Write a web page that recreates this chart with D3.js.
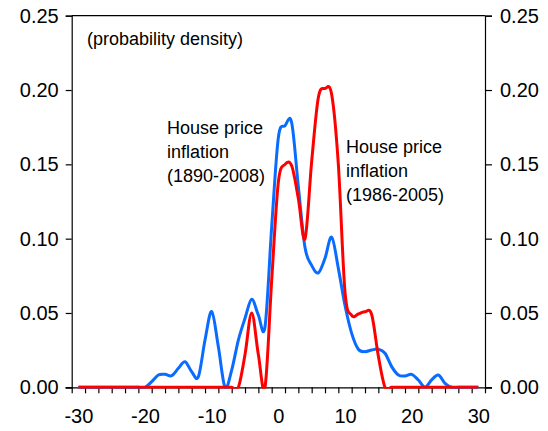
<!DOCTYPE html>
<html>
<head>
<meta charset="utf-8">
<script src="https://cdn.jsdelivr.net/npm/d3@7"></script>
<style>
  html, body { margin: 0; padding: 0; background: #fff; }
  svg { display: block; }
  text { font-family: "Liberation Sans", Arial, sans-serif; fill: #000; }
</style>
</head>
<body>
<svg id="chart" width="548" height="431"></svg>
<script>
// ---- data ----
const xValues = d3.range(-30, 31); // house price inflation, %
const blue18902008 = [
  0,0,0,0,0,0,0,0,0,0,            // -30..-21
  0,0.0038,0.0083,0.0087,0.0078,0.0128,0.0172,0.0105,0.0071,0.0318, // -20..-11
  0.0509,0.0273,0,0.0116,0.0318,0.0464,0.0592,0.0486,0.0408,0.108, // -10..-1
  0.168,0.176,0.178,0.135,0.094,0.082,0.077,0.0868,0.101,0.080, // 0..9
  0.055,0.0363,0.0256,0.024,0.0251,0.0256,0.0229,0.0139,0.0083,0.0076, // 10..19
  0.0087,0.0049,0,0.005,0.0083,0.0027,0,0,0,0,0 // 20..30
];
const red19862005 = [
  0,0,0,0,0,0,0,0,0,0,            // -30..-21
  0,0,0,0,0,0,0,0,0,0,            // -20..-11
  0,0,0,0,0,0.022,0.050,0.022,0,0.072, // -10..-1
  0.138,0.150,0.149,0.127,0.100,0.152,0.195,0.201,0.197,0.150, // 0..9
  0.064,0.0484,0.0493,0.0509,0.049,0.021,0,0,0,0, // 10..19
  0,0,0,0,0,0,0,0,0,0,0 // 20..30
];
const xTickLabels = [-30, -20, -10, 0, 10, 20, 30];
const xMinorTicks = d3.range(-31, 32, 2);
const yTickValues = [0, 0.05, 0.10, 0.15, 0.20, 0.25];
const noteLeft = ["House price", "inflation", "(1890-2008)"];
const noteRight = ["House price", "inflation", "(1986-2005)"];
const unitLabel = "(probability density)";

// ---- chart ----
const svg = d3.select("#chart");
const x = d3.scaleLinear().domain([-31, 31]).range([71.7, 485]);
const y = d3.scaleLinear().domain([0, 0.25]).range([387.3, 15.7]);
const fs = 20;

svg.append("clipPath").attr("id", "plotClip")
  .append("rect")
  .attr("x", x(-31)).attr("y", y(0.25))
  .attr("width", x(31) - x(-31)).attr("height", y(0) - y(0.25) + 1.5);

// frame
svg.append("line").attr("x1", x(-31)).attr("x2", x(31)).attr("y1", y(0.25)).attr("y2", y(0.25))
  .attr("stroke", "#000").attr("stroke-width", 1.2);

// left axis
const gl = svg.append("g").attr("transform", `translate(${x(-31)},0)`)
  .call(d3.axisLeft(y).tickValues(yTickValues).tickFormat(d3.format(".2f")).tickSize(6).tickPadding(7));
// right axis
const gr = svg.append("g").attr("transform", `translate(${x(31)},0)`)
  .call(d3.axisRight(y).tickValues(yTickValues).tickFormat(d3.format(".2f")).tickSize(7).tickPadding(8));
// bottom axis minor ticks
const gb = svg.append("g").attr("transform", `translate(0,${y(0)})`)
  .call(d3.axisBottom(x).tickValues(xMinorTicks).tickFormat("").tickSize(6).tickSizeOuter(0));
// bottom labels
const gbl = svg.append("g").attr("transform", `translate(0,${y(0)})`)
  .call(d3.axisBottom(x).tickValues(xTickLabels).tickFormat(d => String(d)).tickSize(0).tickPadding(22));
gbl.select(".domain").remove();

[gl, gr, gb, gbl].forEach(g => {
  g.selectAll("text").style("font-size", fs + "px").style("font-family", '"Liberation Sans", Arial, sans-serif');
  g.selectAll("line,path").attr("stroke", "#000").attr("stroke-width", 1.2);
});
gb.select(".domain").attr("d", `M${x(-31) - 6},0.5H${x(31) + 7}`);

// lines
const line = d3.line()
  .x((d, i) => x(xValues[i]))
  .y(d => y(d))
  .curve(d3.curveCatmullRom.alpha(0));

const plot = svg.append("g").attr("clip-path", "url(#plotClip)");
plot.append("path").datum(blue18902008)
  .attr("d", line).attr("fill", "none").attr("stroke", "#0a6cff").attr("stroke-width", 3)
  .attr("stroke-linejoin", "round");
plot.append("path").datum(red19862005)
  .attr("d", line).attr("fill", "none").attr("stroke", "#ff0000").attr("stroke-width", 3)
  .attr("stroke-linejoin", "round");

// annotations
svg.append("text").attr("x", 87).attr("y", 45).style("font-size", "18px").text(unitLabel);
noteLeft.forEach((t, i) => svg.append("text").attr("x", 167).attr("y", 134 + i * 24)
  .style("font-size", "18px").text(t));
noteRight.forEach((t, i) => svg.append("text").attr("x", 346).attr("y", 153 + i * 24)
  .style("font-size", "18px").text(t));
</script>
</body>
</html>
